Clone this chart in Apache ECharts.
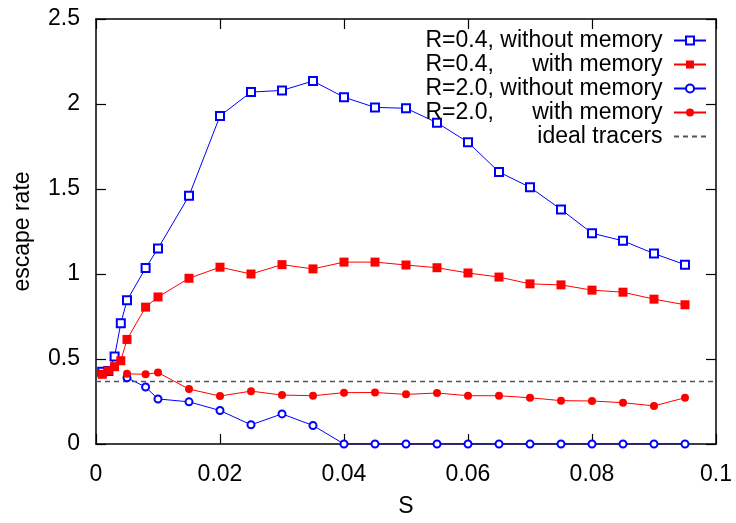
<!DOCTYPE html>
<html>
<head>
<meta charset="utf-8">
<script src="https://cdn.jsdelivr.net/npm/echarts@6/dist/echarts.min.js"></script>
<style>
html,body{margin:0;padding:0;background:#fff;}
#chart{width:736px;height:523px;}
</style>
</head>
<body>
<div id="chart"></div>
<script>
// ---- data ----
var sSquares = [0.001,0.002,0.003,0.004,0.005,0.008,0.01,0.015,0.02,0.025,0.03,0.035,0.04,0.045,0.05,0.055,0.06,0.065,0.07,0.075,0.08,0.085,0.09,0.095];
var r04NoMem = [0.425,0.43,0.515,0.71,0.845,1.035,1.15,1.46,1.93,2.07,2.08,2.135,2.04,1.98,1.975,1.89,1.775,1.6,1.51,1.38,1.24,1.195,1.12,1.055];
var r04Mem   = [0.41,0.43,0.455,0.49,0.615,0.805,0.865,0.975,1.04,1.0,1.055,1.03,1.07,1.07,1.053,1.037,1.006,0.982,0.942,0.936,0.905,0.893,0.852,0.819];
var sCircles = [0.005,0.008,0.01,0.015,0.02,0.025,0.03,0.035,0.04,0.045,0.05,0.055,0.06,0.065,0.07,0.075,0.08,0.085,0.09,0.095];
var r20NoMem = [0.39,0.335,0.265,0.248,0.197,0.113,0.177,0.109,0,0,0,0,0,0,0,0,0,0,0,0];
var r20Mem   = [0.413,0.41,0.42,0.323,0.282,0.311,0.288,0.284,0.302,0.303,0.292,0.3,0.284,0.284,0.272,0.255,0.253,0.243,0.224,0.272];
var idealS = [0, 0.1];
var idealRate = [0.368, 0.368];
var seriesNames = ['R=0.4, without memory','R=0.4,      with memory','R=2.0, without memory','R=2.0,      with memory','ideal tracers'];
var xTicks = {min:0, max:0.1, interval:0.02};
var yTicks = {min:0, max:2.5, interval:0.5};

function pairs(xs, ys){ return xs.map(function(x,i){ return [x, ys[i]]; }); }

var FONT = 'Liberation Sans, Arial, Helvetica, sans-serif';
var FS = 23;
var BLUE = '#0000ff', RED = '#ff0000';
var chart = echarts.init(document.getElementById('chart'), null, {renderer:'canvas'});

function axisBase(extra){
  return Object.assign({
    type:'value',
    splitLine:{show:false},
    axisLine:{show:true, onZero:false, lineStyle:{color:'#000', width:1.5}},
    axisTick:{show:true, inside:true, length:10, lineStyle:{color:'#000', width:1.2}},
    axisLabel:{show:false}
  }, extra);
}

chart.setOption({
  animation:false,
  backgroundColor:'#fff',
  grid:{left:96, right:20, top:19, bottom:76, containLabel:false},
  xAxis:[
    axisBase({position:'bottom', min:xTicks.min, max:xTicks.max, interval:xTicks.interval,
      name:'S', nameLocation:'middle', nameGap:51,
      nameTextStyle:{fontFamily:FONT, fontSize:FS, color:'#000'},
      axisLabel:{show:true, margin:19, fontFamily:FONT, fontSize:FS, color:'#000'}}),
    axisBase({position:'top', min:xTicks.min, max:xTicks.max, interval:xTicks.interval})
  ],
  yAxis:[
    axisBase({position:'left', min:yTicks.min, max:yTicks.max, interval:yTicks.interval,
      name:'escape rate', nameLocation:'middle', nameGap:62,
      nameTextStyle:{fontFamily:FONT, fontSize:FS, color:'#000'},
      axisLabel:{show:true, margin:16, fontFamily:FONT, fontSize:FS, color:'#000'}}),
    axisBase({position:'right', min:yTicks.min, max:yTicks.max, interval:yTicks.interval})
  ],
  legend:{
    orient:'vertical', right:24, top:24, align:'right',
    itemWidth:32, itemHeight:10, itemGap:1,
    formatter:function(n){ return n + ' '; },
    textStyle:{fontFamily:FONT, fontSize:FS, color:'#000', lineHeight:23},
    data:[seriesNames[0], seriesNames[1], seriesNames[2], seriesNames[3],
          {name:seriesNames[4], itemStyle:{opacity:0}}]
  },
  series:[
    {name:seriesNames[0], type:'line', data:pairs(sSquares, r04NoMem),
     symbol:'emptyRect', symbolSize:8, lineStyle:{color:BLUE, width:1},
     itemStyle:{color:BLUE, borderColor:BLUE, borderWidth:1.2}},
    {name:seriesNames[1], type:'line', data:pairs(sSquares, r04Mem),
     symbol:'rect', symbolSize:9, lineStyle:{color:RED, width:1},
     itemStyle:{color:RED}},
    {name:seriesNames[2], type:'line', data:pairs(sCircles, r20NoMem),
     symbol:'emptyCircle', symbolSize:7, lineStyle:{color:BLUE, width:1},
     itemStyle:{color:BLUE, borderColor:BLUE, borderWidth:1.2}},
    {name:seriesNames[3], type:'line', data:pairs(sCircles, r20Mem),
     symbol:'circle', symbolSize:8, lineStyle:{color:RED, width:1},
     itemStyle:{color:RED}},
    {name:seriesNames[4], type:'line', data:pairs(idealS, idealRate),
     symbol:'none', lineStyle:{color:'#555', width:1.5, type:[5,4]},
     itemStyle:{color:'#555', opacity:0}}
  ]
});
</script>
</body>
</html>
